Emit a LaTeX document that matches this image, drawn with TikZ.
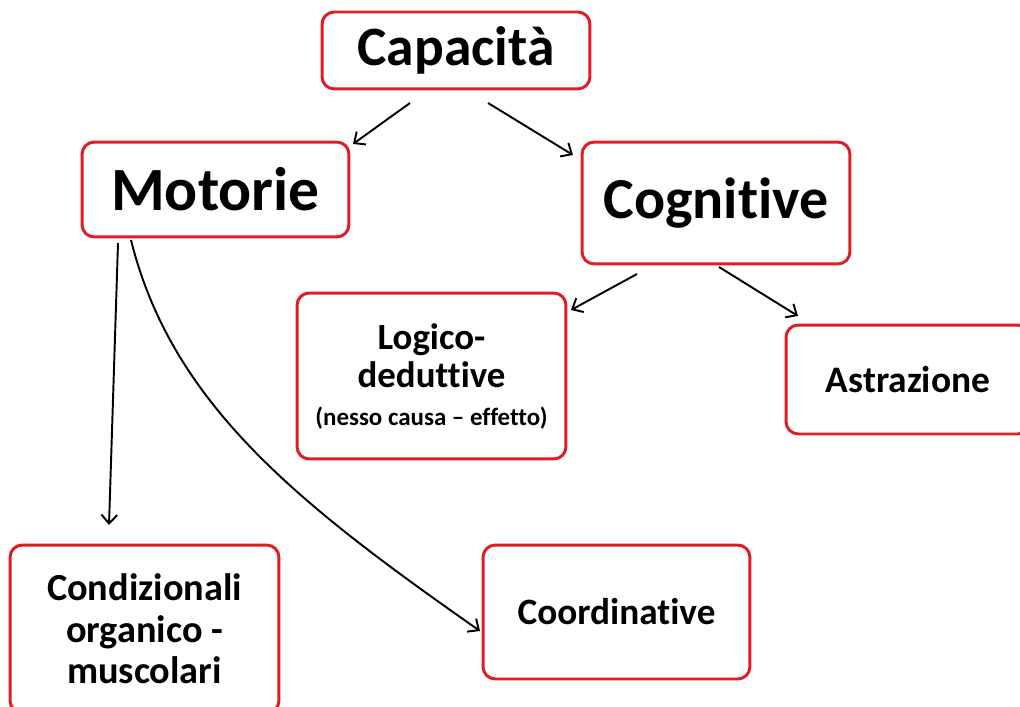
\documentclass[tikz,border=0pt]{standalone}
\usepackage{fontspec}
\setmainfont{Carlito}[Ligatures=NoCommon]
\usetikzlibrary{arrows.meta}
\definecolor{boxred}{RGB}{222,30,36}
\begin{document}
\begin{tikzpicture}[x=0.02cm,y=-0.02cm,
  box/.style={draw=boxred, line width=1.7pt, rounded corners=7pt, fill=white,
    align=center, inner sep=0pt, font=\bfseries},
  link/.style={line width=1.1pt, -{Straight Barb[length=5pt,width=9pt]}}]
\useasboundingbox (0,0) rectangle (1020,706);
\clip (0,0) rectangle (1020,706);

% boxes
\node[box, minimum width=5.36cm, minimum height=1.54cm,
  font=\bfseries\fontsize{31.6}{36}\selectfont] (cap) at (456,50.5) {Capacità};
\node[box, minimum width=5.34cm, minimum height=1.9cm,
  font=\bfseries\fontsize{35}{40}\selectfont] (mot) at (215.5,189.5) {Motorie};
\node[box, minimum width=5.36cm, minimum height=2.44cm,
  font=\bfseries\fontsize{33}{38}\selectfont] (cog) at (716,203) {Cognitive};
\node[box, minimum width=5.38cm, minimum height=3.32cm,
  font=\bfseries\fontsize{21}{21.6}\selectfont] (log) at (431.5,376)
  {Logico-\\deduttive\\\fontsize{14.2}{18.5}\selectfont(nesso causa -- effetto)};
\node[box, minimum width=4.88cm, minimum height=2.18cm,
  font=\bfseries\fontsize{21.3}{24}\selectfont] (ast) at (908,379.5) {Astrazione};
\node[box, minimum width=5.38cm, minimum height=3.36cm,
  font=\bfseries\fontsize{21.8}{23.6}\selectfont] (con) at (144.5,629)
  {Condizionali\\organico -\\muscolari};
\node[box, minimum width=5.34cm, minimum height=2.68cm,
  font=\bfseries\fontsize{21.2}{24}\selectfont] (coo) at (616.5,612) {Coordinative};

% connector end points
\coordinate (capL) at (410,103);
\coordinate (motT) at (353,144);
\coordinate (capR) at (488,103);
\coordinate (cogT) at (573,155);
\coordinate (cogL) at (637,274);
\coordinate (logT) at (571,310);
\coordinate (cogR) at (719,267);
\coordinate (astT) at (798,316);
\coordinate (motA) at (118,243);
\coordinate (conT) at (109,525);
\coordinate (motB) at (131,240);
\coordinate (cooL) at (480,631);

% connectors
\draw[link] (capL) -- (motT);
\draw[link] (capR) -- (cogT);
\draw[link] (cogL) -- (logT);
\draw[link] (cogR) -- (astT);
\draw[link] (motA) -- (conT);
\draw[link] (motB) .. controls (172,405) and (300,505) .. (cooL);
\end{tikzpicture}
\end{document}
